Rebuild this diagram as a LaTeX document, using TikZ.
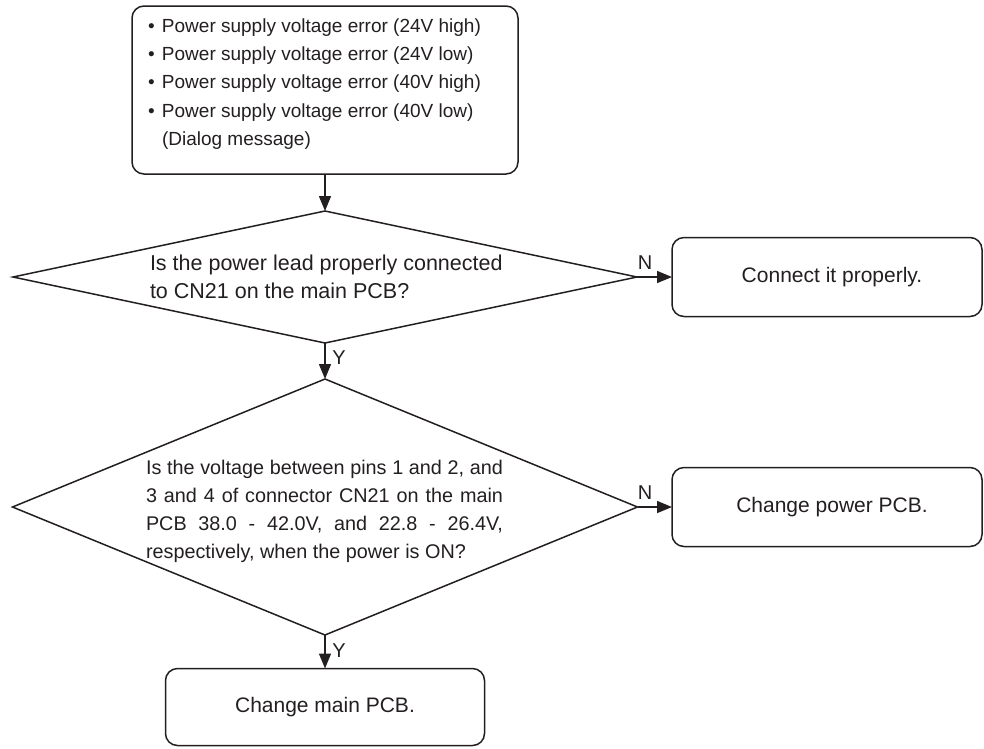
\documentclass[tikz,border=0pt]{standalone}
\usepackage{fontspec}
\setmainfont{Liberation Sans}
\usetikzlibrary{shapes.geometric,arrows.meta}
\definecolor{ink}{HTML}{231F20}
\tikzset{
  rbox/.style={draw=ink, line width=1.5pt, rounded corners=12pt, inner sep=0pt, outer sep=0pt,
    text=ink, font=\fontsize{21}{28}\selectfont},
  dia/.style={draw=ink, diamond, line width=1.5pt, inner sep=0pt, outer sep=0pt},
  txt/.style={text=ink, inner sep=0pt, outer sep=0pt},
  lbl/.style={text=ink, inner sep=0pt, font=\fontsize{20}{24}\selectfont},
  arr/.style={draw=ink, line width=1.5pt, -{Triangle[length=15pt,width=12pt]}},
}
\begin{document}
\begin{tikzpicture}[x=1pt,y=-1pt]
\useasboundingbox (0,0) rectangle (984,748);
% top box
\node[rbox, minimum width=386pt, minimum height=168pt] (b1) at (325,90) {};
\node[txt, anchor=west, align=left, font=\fontsize{19}{28.3}\selectfont] (t1) at (148,84)
  {\makebox[14pt][l]{•}Power supply voltage error (24V high)\\
   \makebox[14pt][l]{•}Power supply voltage error (24V low)\\
   \makebox[14pt][l]{•}Power supply voltage error (40V high)\\
   \makebox[14pt][l]{•}Power supply voltage error (40V low)\\
   \hspace*{14pt}(Dialog message)};
% diamond 1
\node[dia, minimum width=624pt, minimum height=132pt] (d1) at (325,277) {};
\node[txt, anchor=west, align=left, font=\fontsize{21.5}{28}\selectfont] (t2) at (150,277)
  {Is the power lead properly connected\\to CN21 on the main PCB?};
% result 1
\node[rbox, minimum width=310pt, minimum height=79pt] (r1) at (827,277) {\hspace*{10pt}Connect it properly.};
% diamond 2
\node[dia, minimum width=625pt, minimum height=256pt] (d2) at (325,507) {};
\node[txt, anchor=west, text width=357pt, align=justify, font=\fontsize{19.8}{28}\selectfont] (t3) at (146,511)
  {Is the voltage between pins 1 and 2, and\linebreak
   3 and 4 of connector CN21 on the main\linebreak
   PCB 38.0 - 42.0V, and 22.8 - 26.4V,\linebreak
   respectively, when the power is ON?};
% result 2
\node[rbox, minimum width=310pt, minimum height=79pt] (r2) at (827,507) {\hspace*{10pt}Change power PCB.};
% result 3
\node[rbox, minimum width=319pt, minimum height=77pt] (r3) at (325,707) {Change main PCB.};
% connectors
\draw[arr] (b1.south) -- (d1.north);
\draw[arr] (d1.east) -- (r1.west);
\draw[arr] (d1.south) -- (d2.north);
\draw[arr] (d2.east) -- (r2.west);
\draw[arr] (d2.south) -- (r3.north);
% labels
\node[lbl] (n1) at (645,263) {N};
\node[lbl] (y1) at (339,358) {Y};
\node[lbl] (n2) at (645,493) {N};
\node[lbl] (y2) at (339,651) {Y};
\end{tikzpicture}
\end{document}
